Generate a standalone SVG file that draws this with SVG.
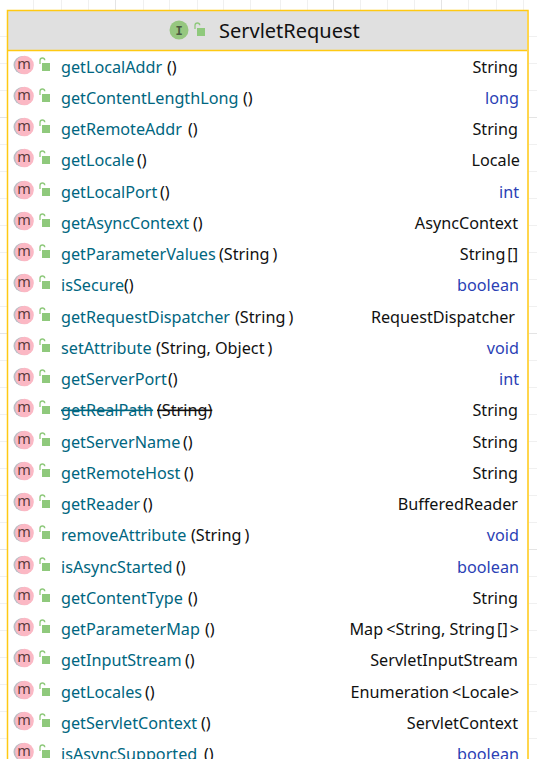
<svg xmlns="http://www.w3.org/2000/svg" width="537" height="759" viewBox="0 0 537 759">
<style>
text{font-family:"Noto Sans","Open Sans","Liberation Sans",sans-serif;font-size:16.2px}
.n{fill:#006680}.a{fill:#111}.r{fill:#111;text-anchor:end}.p{fill:#2b3fb5;text-anchor:end}
.g{stroke:#f0f0f0;stroke-width:1;fill:none}.g2{stroke:#e4e4e4;stroke-width:1;fill:none}
.t{font-size:20px;fill:#111}
.lk{fill:#8fc97c}.ls{fill:none;stroke:#8fc97c;stroke-width:1.3}
</style>
<defs>
<g id="lock"><path class="ls" d="M0 -3V-6.500Q0 -9 2.400 -9Q4.600 -9 4.800 -6.800"/><rect class="lk" x="2" y="-4" width="8" height="8"/></g>
<g id="m"><circle cx="-1.500" cy="0" r="9" fill="#b9bdc4"/><circle cx="0.500" cy="0" r="9.300" fill="#fbb8c4"/><text x="0" y="4" text-anchor="middle" style="font-size:14.500px;fill:#5a3a3a">m</text></g>
</defs>
<rect width="537" height="759" fill="#fff"/>
<g id="grid">
<path class="g" d="M33.500 0V10M61.500 0V10M88.500 0V10M143.500 0V10M169.500 0V10M197.500 0V10M223.500 0V10M250.500 0V10M280.500 0V10M307.500 0V10M360.500 0V10M387.500 0V10M414.500 0V10M468.500 0V10M496.500 0V10M523.500 0V10"/>
<path class="g2" d="M115.500 0V10M333.500 0V10M441.500 0V10M0 117.500H7M529 117.500H537M0 333.500H7M529 333.500H537M0 549.500H7M529 549.500H537"/>
<path class="g" d="M0 36.500H7M529 36.500H537M0 63.500H7M529 63.500H537M0 90.500H7M529 90.500H537M0 144.500H7M529 144.500H537M0 171.500H7M529 171.500H537M0 198.500H7M529 198.500H537M0 225.500H7M529 225.500H537M0 252.500H7M529 252.500H537M0 279.500H7M529 279.500H537M0 306.500H7M529 306.500H537M0 360.500H7M529 360.500H537M0 387.500H7M529 387.500H537M0 414.500H7M529 414.500H537M0 441.500H7M529 441.500H537M0 468.500H7M529 468.500H537M0 495.500H7M529 495.500H537M0 522.500H7M529 522.500H537M0 576.500H7M529 576.500H537M0 603.500H7M529 603.500H537M0 630.500H7M529 630.500H537M0 657.500H7M529 657.500H537M0 684.500H7M529 684.500H537M0 711.500H7M529 711.500H537M0 738.500H7M529 738.500H537"/>
</g>
<g id="node-ServletRequest">
<rect x="8" y="11" width="520" height="760" fill="#fff"/>
<rect x="8" y="11" width="519" height="39" fill="#e0e0e0"/>
<path d="M7.500 770V10.500H528V770" fill="none" stroke="#ffc913" stroke-width="1.500"/>
<path d="M8 50.500H527" stroke="#ffc913" stroke-width="1.500"/>
<circle cx="179" cy="30" r="9.500" fill="#96c77f"/>
<text x="179" y="34.500" text-anchor="middle" style="font-size:12px;font-weight:bold;fill:#4a5a40;font-family:'Liberation Mono',monospace">I</text>
<use href="#lock" x="195" y="32"/>
<text class="t" x="219" y="38">ServletRequest</text>
</g>
<g id="row-01"><use href="#m" x="24" y="65"/><use href="#lock" x="40" y="67"/><text class="n" x="61" y="73">getLocalAddr</text><text class="a" x="167" y="73">()</text><text class="r" x="518" y="73">String</text></g>
<g id="row-02"><use href="#m" x="24" y="96"/><use href="#lock" x="40" y="98"/><text class="n" x="61" y="104">getContentLengthLong</text><text class="a" x="243" y="104">()</text><text class="p" x="519" y="104">long</text></g>
<g id="row-03"><use href="#m" x="24" y="127"/><use href="#lock" x="40" y="129"/><text class="n" x="61" y="135">getRemoteAddr</text><text class="a" x="188" y="135">()</text><text class="r" x="518" y="135">String</text></g>
<g id="row-04"><use href="#m" x="24" y="158"/><use href="#lock" x="40" y="160"/><text class="n" x="61" y="166">getLocale</text><text class="a" x="137" y="166">()</text><text class="r" x="520" y="166">Locale</text></g>
<g id="row-05"><use href="#m" x="24" y="190"/><use href="#lock" x="40" y="192"/><text class="n" x="61" y="198">getLocalPort</text><text class="a" x="160" y="198">()</text><text class="p" x="519" y="198">int</text></g>
<g id="row-06"><use href="#m" x="24" y="221"/><use href="#lock" x="40" y="223"/><text class="n" x="61" y="229">getAsyncContext</text><text class="a" x="193" y="229">()</text><text class="r" x="518" y="229">AsyncContext</text></g>
<g id="row-07"><use href="#m" x="24" y="252"/><use href="#lock" x="40" y="254"/><text class="n" x="61" y="260">getParameterValues</text><text class="a" x="219" y="260">(String<tspan dx="3">)</tspan></text><text class="r" x="518" y="260">String<tspan dx="2">[]</tspan></text></g>
<g id="row-08"><use href="#m" x="24" y="283"/><use href="#lock" x="40" y="285"/><text class="n" x="61" y="291">isSecure</text><text class="a" x="124" y="291">()</text><text class="p" x="519" y="291">boolean</text></g>
<g id="row-09"><use href="#m" x="24" y="315"/><use href="#lock" x="40" y="317"/><text class="n" x="61" y="323">getRequestDispatcher</text><text class="a" x="235" y="323">(String<tspan dx="3">)</tspan></text><text class="r" x="515" y="323">RequestDispatcher</text></g>
<g id="row-10"><use href="#m" x="24" y="346"/><use href="#lock" x="40" y="348"/><text class="n" x="61" y="354">setAttribute</text><text class="a" x="156" y="354">(String, Object<tspan dx="3">)</tspan></text><text class="p" x="519" y="354">void</text></g>
<g id="row-11"><use href="#m" x="24" y="377"/><use href="#lock" x="40" y="379"/><text class="n" x="61" y="385">getServerPort</text><text class="a" x="168" y="385">()</text><text class="p" x="519" y="385">int</text></g>
<g id="row-12"><use href="#m" x="24" y="408"/><use href="#lock" x="40" y="410"/><text class="n" x="61" y="416" text-decoration="line-through">getRealPath</text><text class="a" x="157" y="416" text-decoration="line-through">(String)</text><text class="r" x="518" y="416">String</text></g>
<g id="row-13"><use href="#m" x="24" y="440"/><use href="#lock" x="40" y="442"/><text class="n" x="61" y="448">getServerName</text><text class="a" x="183" y="448">()</text><text class="r" x="518" y="448">String</text></g>
<g id="row-14"><use href="#m" x="24" y="471"/><use href="#lock" x="40" y="473"/><text class="n" x="61" y="479">getRemoteHost</text><text class="a" x="184" y="479">()</text><text class="r" x="518" y="479">String</text></g>
<g id="row-15"><use href="#m" x="24" y="502"/><use href="#lock" x="40" y="504"/><text class="n" x="61" y="510">getReader</text><text class="a" x="143" y="510">()</text><text class="r" x="518" y="510">BufferedReader</text></g>
<g id="row-16"><use href="#m" x="24" y="533"/><use href="#lock" x="40" y="535"/><text class="n" x="61" y="541">removeAttribute</text><text class="a" x="191" y="541">(String<tspan dx="3">)</tspan></text><text class="p" x="519" y="541">void</text></g>
<g id="row-17"><use href="#m" x="24" y="565"/><use href="#lock" x="40" y="567"/><text class="n" x="61" y="573">isAsyncStarted</text><text class="a" x="176" y="573">()</text><text class="p" x="519" y="573">boolean</text></g>
<g id="row-18"><use href="#m" x="24" y="596"/><use href="#lock" x="40" y="598"/><text class="n" x="61" y="604">getContentType</text><text class="a" x="188" y="604">()</text><text class="r" x="518" y="604">String</text></g>
<g id="row-19"><use href="#m" x="24" y="627"/><use href="#lock" x="40" y="629"/><text class="n" x="61" y="635">getParameterMap</text><text class="a" x="205" y="635">()</text><text class="r" x="519" y="635">Map<tspan dx="3">&lt;String, String</tspan><tspan dx="2">[]</tspan><tspan dx="2">&gt;</tspan></text></g>
<g id="row-20"><use href="#m" x="24" y="658"/><use href="#lock" x="40" y="660"/><text class="n" x="61" y="666">getInputStream</text><text class="a" x="185" y="666">()</text><text class="r" x="518" y="666">ServletInputStream</text></g>
<g id="row-21"><use href="#m" x="24" y="690"/><use href="#lock" x="40" y="692"/><text class="n" x="61" y="698">getLocales</text><text class="a" x="145" y="698">()</text><text class="r" x="519" y="698">Enumeration<tspan dx="3">&lt;Locale&gt;</tspan></text></g>
<g id="row-22"><use href="#m" x="24" y="721"/><use href="#lock" x="40" y="723"/><text class="n" x="61" y="729">getServletContext</text><text class="a" x="201" y="729">()</text><text class="r" x="518" y="729">ServletContext</text></g>
<g id="row-23"><use href="#m" x="24" y="752"/><use href="#lock" x="40" y="754"/><text class="n" x="61" y="760">isAsyncSupported</text><text class="a" x="204" y="760">()</text><text class="p" x="519" y="760">boolean</text></g>
<g id="connectors"></g>
</svg>
